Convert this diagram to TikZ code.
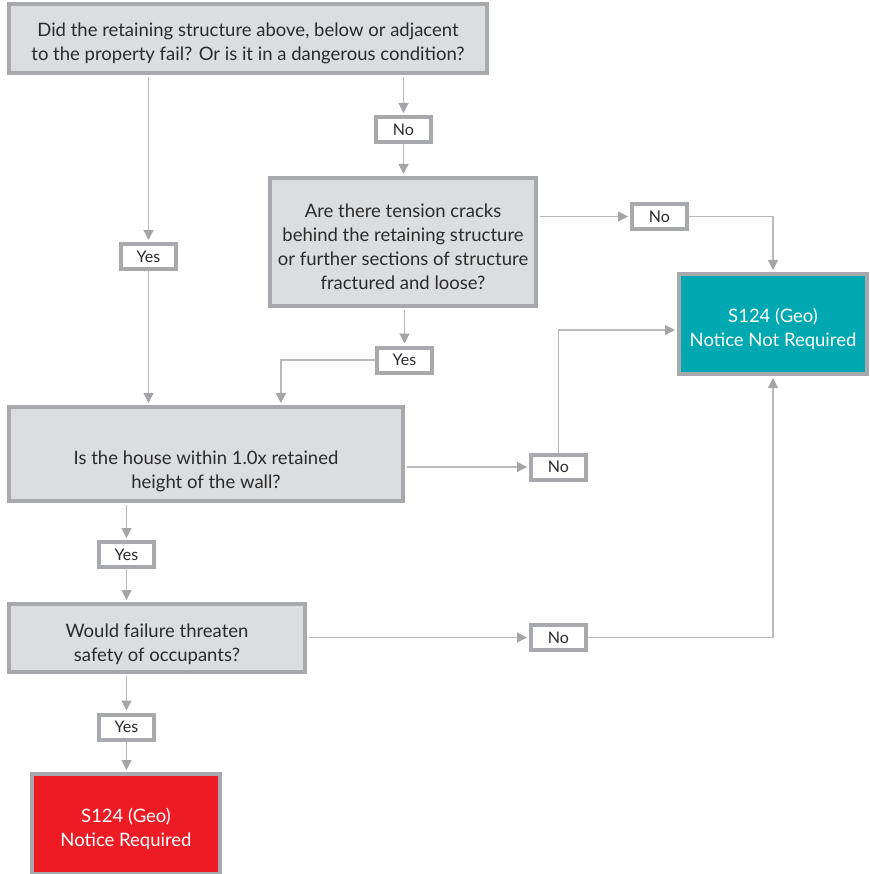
\documentclass[tikz,border=0pt]{standalone}
\usepackage{fontspec}
\setmainfont{Lato}
\usetikzlibrary{arrows.meta,calc}
\definecolor{bordergray}{HTML}{A7A9AC}
\definecolor{boxfill}{HTML}{DCDDDF}
\definecolor{linegray}{HTML}{B8BABC}
\definecolor{tipgray}{HTML}{A3A5A8}
\definecolor{tealc}{HTML}{00A9B2}
\definecolor{redc}{HTML}{ED1C24}
\definecolor{txt}{HTML}{2B2B2B}
\tikzset{
  qbox/.style={draw=bordergray, line width=4pt, fill=boxfill, inner sep=0pt},
  qtxt/.style={align=center, text=txt, font=\fontsize{18.5}{24}\selectfont, inner sep=0pt},
  wtxt/.style={align=center, text=white, font=\fontsize{18.5}{24}\selectfont, inner sep=0pt},
  lbl/.style={draw=bordergray, line width=4pt, fill=white, text=txt,
    font=\fontsize{16}{18}\selectfont, minimum width=55pt, minimum height=25pt, inner sep=0pt},
  resbox/.style={draw=bordergray, line width=4pt, minimum width=188pt, minimum height=100pt, inner sep=0pt},
  conn/.style={draw=linegray, line width=1.2pt},
  arr/.style={conn, -{Triangle[length=10pt,width=10pt,color=tipgray]}, shorten >=2pt},
}
\begin{document}
\begin{tikzpicture}[x=1pt,y=-1pt]
\useasboundingbox (0,0) rectangle (869,874);
% main boxes
\node[qbox, minimum width=478pt, minimum height=69pt,
  label={[qtxt, yshift=-4.5pt]center:{Did the retaining structure above, below or adjacent\\to the property fail? Or is it in a dangerous condition?}}] (top) at (248,38.5) {};
\node[qbox, minimum width=266pt, minimum height=128pt,
  label={[qtxt, yshift=-4.5pt]center:{Are there tension cracks\\behind the retaining structure\\or further sections of structure\\fractured and loose?}}] (b2) at (403,242) {};
\node[qbox, minimum width=394pt, minimum height=94pt,
  label={[qtxt, yshift=-17pt]center:{Is the house within 1.0x retained\\height of the wall?}}] (b3) at (206,454) {};
\node[qbox, minimum width=296pt, minimum height=68pt,
  label={[qtxt, yshift=-6.5pt]center:{Would failure threaten\\safety of occupants?}}] (b4) at (157,638) {};
\node[resbox, fill=tealc,
  label={[wtxt, yshift=-4.5pt]center:{S124 (Geo)\\Notice Not Required}}] (teal) at (773,324) {};
\node[resbox, fill=redc,
  label={[wtxt, yshift=-5pt]center:{S124 (Geo)\\Notice Required}}] (red) at (126,824) {};
% labels
\node[lbl] (no1) at (403.5,129.5) {No};
\node[lbl] (no2) at (659.5,216.5) {No};
\node[lbl] (yes1) at (148.5,256.5) {Yes};
\node[lbl] (yes2) at (404.5,360) {Yes};
\node[lbl] (no3) at (558.5,467) {No};
\node[lbl] (yes3) at (126.5,554.5) {Yes};
\node[lbl] (no4) at (558.5,637.5) {No};
\node[lbl] (yes4) at (126.5,727) {Yes};
\coordinate (j1) at (281,0);
% connectors
\draw[arr] ([yshift=-2pt]top.south -| yes1) -- (yes1.north);
\draw[arr] (yes1.south) -- (yes1.south |- b3.north);
\draw[arr] ([yshift=-2pt]top.south -| no1) -- (no1.north);
\draw[arr] (no1.south) -- (no1.south |- b2.north);
\draw[arr] ([xshift=2pt]b2.east |- no2.west) -- (no2.west);
\draw[arr] (no2.east) -| (teal.north);
\draw[arr] ([yshift=-2pt]b2.south -| yes2) -- (yes2.north);
\draw[arr] (yes2.west) -| (j1 |- b3.north);
\draw[arr] ([xshift=2pt]b3.east |- no3.west) -- (no3.west);
\draw[arr] (no3.north) |- ([yshift=-6pt]teal.west);
\draw[arr] ([yshift=-2pt]b3.south -| yes3) -- (yes3.north);
\draw[arr] (yes3.south) -- (yes3.south |- b4.north);
\draw[arr] ([xshift=2pt]b4.east |- no4.west) -- (no4.west);
\draw[arr] (no4.east) -| (teal.south);
\draw[arr] ([yshift=-2pt]b4.south -| yes4) -- (yes4.north);
\draw[arr] (yes4.south) -- (yes4.south |- red.north);
\end{tikzpicture}
\end{document}
